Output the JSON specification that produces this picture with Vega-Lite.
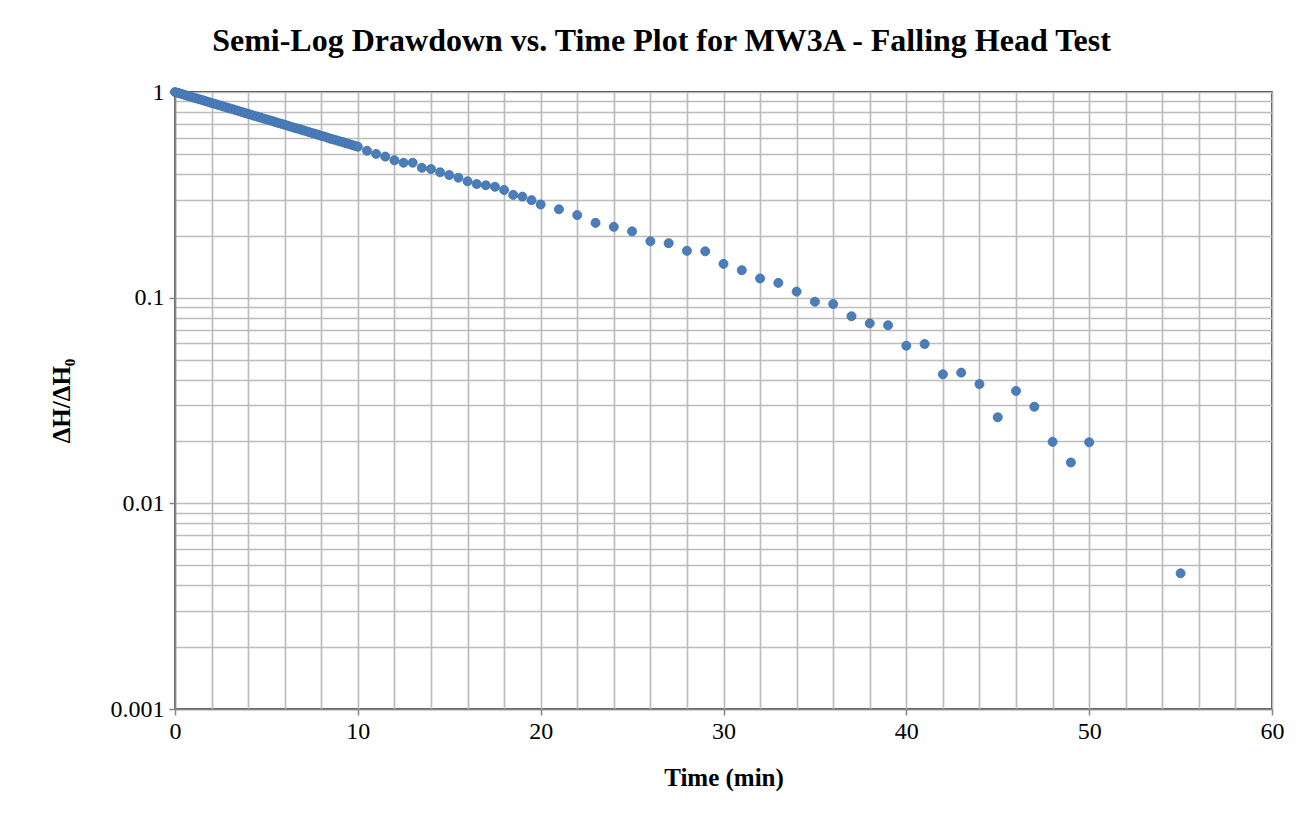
{
  "$schema": "https://vega.github.io/schema/vega-lite/v6.json",
  "autosize": {"type": "none"},
  "padding": {"left": 175, "top": 92, "right": 40, "bottom": 115},
  "width": 1097,
  "height": 617,
  "background": "white",
  "title": {
    "text": "Semi-Log Drawdown vs. Time Plot for MW3A - Falling Head Test",
    "font": "Liberation Serif",
    "fontSize": 32,
    "fontWeight": "bold",
    "color": "black",
    "anchor": "middle",
    "dx": -62,
    "offset": 22
  },
  "config": {
    "view": {"stroke": "black", "strokeWidth": 1.5},
    "axis": {
      "labelFont": "Liberation Serif",
      "labelFontSize": 24,
      "labelColor": "black",
      "titleFont": "Liberation Serif",
      "titleFontSize": 25,
      "titleFontWeight": "bold",
      "titleColor": "black",
      "gridColor": "#bcbcbc",
      "gridWidth": 1.7,
      "gridOpacity": 1,
      "domainColor": "#868686",
      "domainWidth": 1.5,
      "tickColor": "#868686",
      "tickWidth": 1.5
    }
  },
  "data": {
    "values": [
      {"t": 0, "r": 1.0},
      {"t": 0.167, "r": 0.99},
      {"t": 0.333, "r": 0.981},
      {"t": 0.5, "r": 0.97},
      {"t": 0.667, "r": 0.96},
      {"t": 0.833, "r": 0.951},
      {"t": 1.0, "r": 0.94},
      {"t": 1.167, "r": 0.931},
      {"t": 1.333, "r": 0.922},
      {"t": 1.5, "r": 0.913},
      {"t": 1.667, "r": 0.903},
      {"t": 1.833, "r": 0.894},
      {"t": 2.0, "r": 0.884},
      {"t": 2.167, "r": 0.876},
      {"t": 2.333, "r": 0.867},
      {"t": 2.5, "r": 0.859},
      {"t": 2.667, "r": 0.849},
      {"t": 2.833, "r": 0.84},
      {"t": 3.0, "r": 0.832},
      {"t": 3.167, "r": 0.824},
      {"t": 3.333, "r": 0.816},
      {"t": 3.5, "r": 0.807},
      {"t": 3.667, "r": 0.799},
      {"t": 3.833, "r": 0.79},
      {"t": 4.0, "r": 0.783},
      {"t": 4.167, "r": 0.775},
      {"t": 4.333, "r": 0.766},
      {"t": 4.5, "r": 0.759},
      {"t": 4.667, "r": 0.752},
      {"t": 4.833, "r": 0.743},
      {"t": 5.0, "r": 0.736},
      {"t": 5.167, "r": 0.729},
      {"t": 5.333, "r": 0.722},
      {"t": 5.5, "r": 0.714},
      {"t": 5.667, "r": 0.706},
      {"t": 5.833, "r": 0.7},
      {"t": 6.0, "r": 0.693},
      {"t": 6.167, "r": 0.686},
      {"t": 6.333, "r": 0.678},
      {"t": 6.5, "r": 0.671},
      {"t": 6.667, "r": 0.665},
      {"t": 6.833, "r": 0.659},
      {"t": 7.0, "r": 0.651},
      {"t": 7.167, "r": 0.645},
      {"t": 7.333, "r": 0.638},
      {"t": 7.5, "r": 0.632},
      {"t": 7.667, "r": 0.626},
      {"t": 7.833, "r": 0.619},
      {"t": 8.0, "r": 0.612},
      {"t": 8.167, "r": 0.607},
      {"t": 8.333, "r": 0.6},
      {"t": 8.5, "r": 0.593},
      {"t": 8.667, "r": 0.588},
      {"t": 8.833, "r": 0.582},
      {"t": 9.0, "r": 0.576},
      {"t": 9.167, "r": 0.571},
      {"t": 9.333, "r": 0.564},
      {"t": 9.5, "r": 0.559},
      {"t": 9.667, "r": 0.553},
      {"t": 9.833, "r": 0.548},
      {"t": 10.0, "r": 0.542},
      {"t": 10.5, "r": 0.518},
      {"t": 11.0, "r": 0.5},
      {"t": 11.5, "r": 0.485},
      {"t": 12.0, "r": 0.466},
      {"t": 12.5, "r": 0.453},
      {"t": 13.0, "r": 0.453},
      {"t": 13.5, "r": 0.428},
      {"t": 14.0, "r": 0.422},
      {"t": 14.5, "r": 0.407},
      {"t": 15.0, "r": 0.395},
      {"t": 15.5, "r": 0.383},
      {"t": 16.0, "r": 0.368},
      {"t": 16.5, "r": 0.357},
      {"t": 17.0, "r": 0.352},
      {"t": 17.5, "r": 0.346},
      {"t": 18.0, "r": 0.334},
      {"t": 18.5, "r": 0.316},
      {"t": 19.0, "r": 0.31},
      {"t": 19.5, "r": 0.298},
      {"t": 20.0, "r": 0.284},
      {"t": 21, "r": 0.269},
      {"t": 22, "r": 0.252},
      {"t": 23, "r": 0.231},
      {"t": 24, "r": 0.221},
      {"t": 25, "r": 0.21},
      {"t": 26, "r": 0.188},
      {"t": 27, "r": 0.184},
      {"t": 28, "r": 0.169},
      {"t": 29, "r": 0.168},
      {"t": 30, "r": 0.146},
      {"t": 31, "r": 0.136},
      {"t": 32, "r": 0.124},
      {"t": 33, "r": 0.118},
      {"t": 34, "r": 0.107},
      {"t": 35, "r": 0.0956},
      {"t": 36, "r": 0.0932},
      {"t": 37, "r": 0.0812},
      {"t": 38, "r": 0.075},
      {"t": 39, "r": 0.0734},
      {"t": 40, "r": 0.0584},
      {"t": 41, "r": 0.0595},
      {"t": 42, "r": 0.0424},
      {"t": 43, "r": 0.0432},
      {"t": 44, "r": 0.038},
      {"t": 45, "r": 0.0262},
      {"t": 46, "r": 0.0352},
      {"t": 47, "r": 0.0295},
      {"t": 48, "r": 0.0199},
      {"t": 49, "r": 0.0158},
      {"t": 50, "r": 0.0198},
      {"t": 55, "r": 0.00457}
    ]
  },
  "mark": {"type": "point", "filled": true, "shape": "circle", "size": 82, "color": "#4a7ebb", "opacity": 1, "stroke": "#3f6fa8", "strokeWidth": 0.8},
  "encoding": {
    "x": {
      "field": "t",
      "type": "quantitative",
      "title": "Time (min)",
      "scale": {"domain": [0, 60], "nice": false, "zero": false},
      "axis": {
        "values": [0,2,4,6,8,10,12,14,16,18,20,22,24,26,28,30,32,34,36,38,40,42,44,46,48,50,52,54,56,58,60],
        "labelExpr": "datum.value % 10 == 0 ? datum.label : ''",
        "tickOpacity": {"condition": {"test": "datum.value % 10 == 0", "value": 1}, "value": 0},
        "tickSize": 6,
        "labelPadding": 4,
        "titlePadding": 22,
        "labelOverlap": false,
        "labelBound": false,
        "labelFlush": false
      }
    },
    "y": {
      "field": "r",
      "type": "quantitative",
      "title": "ΔH/ΔH₀",
      "scale": {"type": "log", "domain": [0.001, 1], "nice": false},
      "axis": {
        "values": [0.001,0.002,0.003,0.004,0.005,0.006,0.007,0.008,0.009,0.01,0.02,0.03,0.04,0.05,0.06,0.07,0.08,0.09,0.1,0.2,0.3,0.4,0.5,0.6,0.7,0.8,0.9,1],
        "labelExpr": "datum.value == 1 ? '1' : datum.value == 0.1 ? '0.1' : datum.value == 0.01 ? '0.01' : datum.value == 0.001 ? '0.001' : ''",
        "tickOpacity": {"condition": {"test": "datum.value == 1 || datum.value == 0.1 || datum.value == 0.01 || datum.value == 0.001", "value": 1}, "value": 0},
        "tickSize": 6,
        "labelPadding": 5,
        "titlePadding": 36,
        "labelOverlap": false,
        "labelBound": false,
        "labelFlush": false
      }
    }
  }
}
